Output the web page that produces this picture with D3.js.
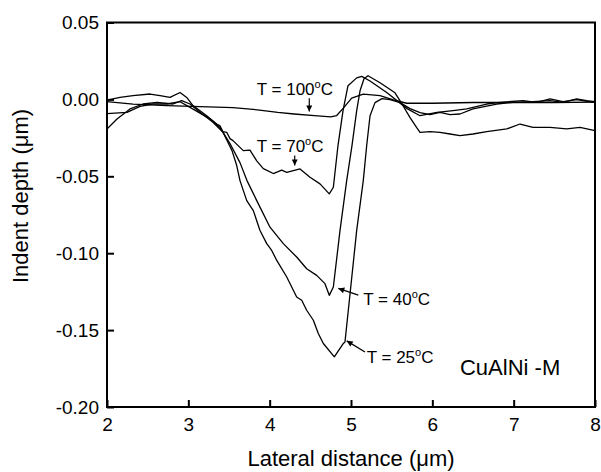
<!DOCTYPE html>
<html>
<head>
<meta charset="utf-8">
<script src="https://cdn.jsdelivr.net/npm/d3@7"></script>
<style>
  body { margin: 0; background: #fff; }
  text { font-family: Arial, "Liberation Sans", sans-serif; fill: #000; }
</style>
</head>
<body>
<div id="chart"></div>
<script>
// Lateral distance (um) and indent depth (um).
const x25 = [2.000, 2.123, 2.283, 2.443, 2.615, 2.812, 2.918, 3.021, 3.143, 3.303, 3.426, 3.537, 3.595, 3.635, 3.718, 3.799, 3.881, 3.964, 4.025, 4.087, 4.210, 4.332, 4.394, 4.455, 4.537, 4.598, 4.660, 4.795, 4.906, 4.926, 5.070, 5.151, 5.193, 5.234, 5.295, 5.381, 5.480, 5.603, 5.726, 5.849, 5.972, 6.094, 6.217, 6.340, 6.500, 6.792, 6.992, 7.238, 7.447, 7.607, 7.775, 7.898, 8.000];
const y25 = [-0.0192, -0.0127, -0.0062, -0.0030, -0.0019, -0.0030, -0.0008, -0.0030, -0.0084, -0.0149, -0.0214, -0.0333, -0.0430, -0.0528, -0.0658, -0.0723, -0.0852, -0.0938, -0.0982, -0.1047, -0.1155, -0.1285, -0.1306, -0.1371, -0.1436, -0.1522, -0.1587, -0.1674, -0.1587, -0.1577, -0.0852, -0.0528, -0.0300, -0.0106, -0.0021, 0.0005, -0.0002, -0.0021, -0.0060, -0.0086, -0.0099, -0.0084, -0.0099, -0.0095, -0.0062, -0.0030, -0.0019, -0.0015, -0.0008, -0.0019, 0.0003, -0.0008, -0.0015];

const x40 = [2.000, 2.246, 2.406, 2.566, 2.738, 2.898, 3.021, 3.266, 3.389, 3.512, 3.635, 3.721, 3.841, 4.004, 4.168, 4.332, 4.455, 4.578, 4.680, 4.733, 4.783, 4.865, 4.947, 5.012, 5.070, 5.111, 5.160, 5.209, 5.357, 5.541, 5.640, 5.726, 5.808, 5.849, 5.972, 6.094, 6.217, 6.340, 6.500, 6.669, 6.915, 7.078, 7.238, 7.447, 7.652, 7.816, 8.000];
const y40 = [-0.0093, -0.0084, -0.0045, -0.0030, -0.0030, -0.0015, -0.0052, -0.0127, -0.0182, -0.0287, -0.0411, -0.0528, -0.0658, -0.0831, -0.0938, -0.1025, -0.1101, -0.1144, -0.1198, -0.1274, -0.1220, -0.0852, -0.0528, -0.0300, -0.0073, 0.0056, 0.0134, 0.0154, 0.0108, 0.0043, -0.0041, -0.0119, -0.0184, -0.0214, -0.0210, -0.0214, -0.0225, -0.0236, -0.0225, -0.0210, -0.0192, -0.0160, -0.0182, -0.0182, -0.0192, -0.0182, -0.0203];

const x70 = [2.000, 2.160, 2.320, 2.529, 2.652, 2.775, 2.898, 2.980, 3.057, 3.226, 3.349, 3.389, 3.426, 3.472, 3.512, 3.549, 3.676, 3.758, 3.841, 3.922, 4.045, 4.148, 4.210, 4.373, 4.496, 4.619, 4.733, 4.783, 4.840, 4.902, 4.963, 5.070, 5.132, 5.234, 5.443, 5.689, 5.849, 6.058, 6.254, 6.423, 6.669, 6.832, 7.115, 7.283, 7.447, 7.607, 7.775, 7.976, 8.000];
const y70 = [-0.0004, 0.0013, 0.0024, 0.0035, 0.0024, 0.0013, 0.0045, 0.0013, -0.0040, -0.0106, -0.0160, -0.0172, -0.0210, -0.0214, -0.0255, -0.0268, -0.0333, -0.0330, -0.0400, -0.0450, -0.0482, -0.0460, -0.0474, -0.0452, -0.0506, -0.0549, -0.0614, -0.0571, -0.0300, -0.0073, 0.0089, 0.0140, 0.0150, 0.0120, 0.0043, -0.0060, -0.0106, -0.0084, -0.0073, -0.0062, -0.0030, -0.0019, -0.0008, -0.0019, 0.0003, -0.0015, -0.0002, -0.0019, -0.0020];

const x100 = [2.000, 2.320, 2.738, 3.143, 3.549, 3.850, 4.100, 4.300, 4.550, 4.750, 4.824, 4.906, 5.008, 5.151, 5.357, 5.521, 5.685, 6.000, 6.500, 7.000, 7.500, 8.000];
const y100 = [-0.0014, -0.0031, -0.0040, -0.0047, -0.0053, -0.0068, -0.0085, -0.0095, -0.0105, -0.0113, -0.0105, -0.0057, 0.0008, 0.0034, 0.0025, -0.0003, -0.0025, -0.0025, -0.0020, -0.0020, -0.0020, -0.0018];

// Axis ticks and their labels.
const xTicks = [2, 3, 4, 5, 6, 7, 8];
const yTicks = [-0.20, -0.15, -0.10, -0.05, 0.00, 0.05];
const yTickLabels = ["-0.20", "-0.15", "-0.10", "-0.05", "0.00", "0.05"];

// Temperature labels, where they sit and where their arrows point (data units).
const labelTemps = ["100", "70", "40", "25"];
const labelX = [3.841, 3.841, 5.151, 5.193];
const labelY = [0.0029, -0.0345, -0.1338, -0.1717];
const arrowFromX = [4.487, 4.308, 5.090, 5.172];
const arrowFromY = [0.0008, -0.0365, -0.1273, -0.1642];
const arrowToX = [4.487, 4.308, 4.844, 4.947];
const arrowToY = [-0.0079, -0.0430, -0.1229, -0.1570];

const w = 601, h = 472;

const svg = d3.select("#chart")
    .append("svg")
    .attr("width", w)
    .attr("height", h);

const xScale = d3.scaleLinear().domain([2, 8]).range([107, 595]);
const yScale = d3.scaleLinear().domain([-0.20, 0.05]).range([407, 22.5]);

// Arrow head for the temperature labels.
svg.append("defs").append("marker")
    .attr("id", "head")
    .attr("markerUnits", "userSpaceOnUse")
    .attr("viewBox", "0 0 10 10")
    .attr("refX", 10)
    .attr("refY", 5)
    .attr("markerWidth", 8)
    .attr("markerHeight", 6)
    .attr("orient", "auto")
    .append("path")
    .attr("d", "M0,0L10,5L0,10Z")
    .attr("fill", "#000");

// Bottom axis, ticks pointing inward.
const xAxis = svg.append("g")
    .attr("transform", `translate(0,${yScale(-0.20)})`)
    .call(d3.axisBottom(xScale).tickValues(xTicks).tickSize(-7).tickPadding(11).tickFormat(d3.format("d")));

// Left axis, ticks pointing inward.
const yAxis = svg.append("g")
    .attr("transform", `translate(${xScale(2)},0)`)
    .call(d3.axisLeft(yScale).tickValues(yTicks).tickSize(-7).tickPadding(8)
        .tickFormat((d, i) => yTickLabels[i]));

[xAxis, yAxis].forEach(g => {
    g.select(".domain").remove();
    g.selectAll(".tick line").attr("stroke", "#000").attr("stroke-width", 2);
    g.selectAll(".tick text")
        .attr("font-family", "Arial, 'Liberation Sans', sans-serif")
        .attr("font-size", 19)
        .attr("fill", "#000");
});

// Frame round the plot.
svg.append("rect")
    .attr("x", xScale(2))
    .attr("y", yScale(0.05))
    .attr("width", xScale(8) - xScale(2))
    .attr("height", yScale(-0.20) - yScale(0.05))
    .attr("fill", "none")
    .attr("stroke", "#000")
    .attr("stroke-width", 2);

// The four profiles.
const series = [[x25, y25], [x40, y40], [x70, y70], [x100, y100]];
const line = d3.line()
    .x(d => xScale(d[0]))
    .y(d => yScale(d[1]));

svg.selectAll("path.profile")
    .data(series)
    .enter()
    .append("path")
    .attr("class", "profile")
    .attr("d", s => line(d3.zip(s[0], s[1])))
    .attr("fill", "none")
    .attr("stroke", "#000")
    .attr("stroke-width", 1.3)
    .attr("stroke-linejoin", "round");

// Arrows from the labels to the curves.
svg.selectAll("line.arrow")
    .data(labelTemps)
    .enter()
    .append("line")
    .attr("class", "arrow")
    .attr("x1", (d, i) => xScale(arrowFromX[i]))
    .attr("y1", (d, i) => yScale(arrowFromY[i]))
    .attr("x2", (d, i) => xScale(arrowToX[i]))
    .attr("y2", (d, i) => yScale(arrowToY[i]))
    .attr("stroke", "#000")
    .attr("stroke-width", 1.2)
    .attr("marker-end", "url(#head)");

// "T = xx°C" labels, the degree sign set as a raised small o.
const labels = svg.selectAll("text.temp")
    .data(labelTemps)
    .enter()
    .append("text")
    .attr("class", "temp")
    .attr("x", (d, i) => xScale(labelX[i]))
    .attr("y", (d, i) => yScale(labelY[i]))
    .attr("font-size", 17);
labels.append("tspan").text(d => "T = " + d);
labels.append("tspan").attr("font-size", 11).attr("dy", -7).text("o");
labels.append("tspan").attr("dy", 7).text("C");

svg.append("text")
    .attr("x", xScale(6.34))
    .attr("y", yScale(-0.1794))
    .attr("font-size", 22)
    .text("CuAlNi -M");

// Axis titles.
svg.append("text")
    .attr("x", (xScale(2) + xScale(8)) / 2)
    .attr("y", 466)
    .attr("text-anchor", "middle")
    .attr("font-size", 22)
    .text("Lateral distance (\u03bcm)");

svg.append("text")
    .attr("transform", "translate(28,196) rotate(-90)")
    .attr("text-anchor", "middle")
    .attr("font-size", 22)
    .text("Indent depth (\u03bcm)");
</script>
</body>
</html>
